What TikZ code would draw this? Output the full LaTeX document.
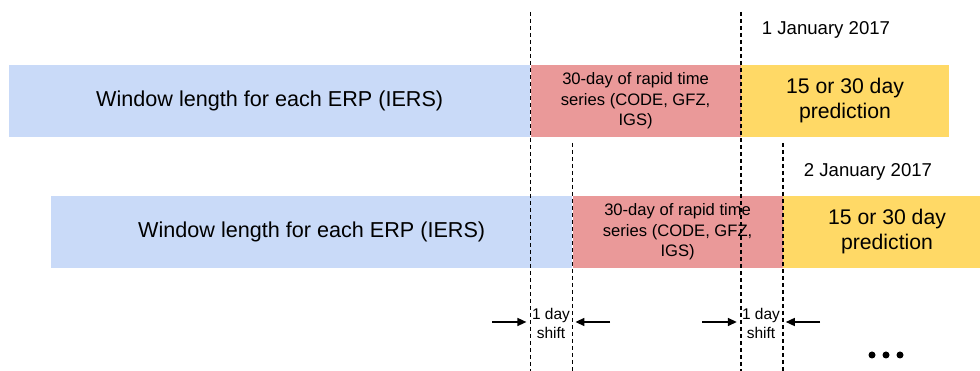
\documentclass[tikz,border=0pt]{standalone}
\usepackage{fontspec}
\setmainfont{Liberation Sans}
\usetikzlibrary{positioning, arrows.meta}
\definecolor{erpblue}{HTML}{C9DAF8}
\definecolor{rapidred}{HTML}{EA9999}
\definecolor{predyellow}{HTML}{FFD966}

\begin{document}
\begin{tikzpicture}[x=1pt, y=1pt,
  bar/.style={inner sep=0pt, minimum height=72pt, align=center},
  winbar/.style={bar, fill=erpblue, minimum width=521pt, font=\fontsize{21.6}{26}\selectfont},
  rapidbar/.style={bar, fill=rapidred, minimum width=210pt, font=\fontsize{16.6}{20.5}\selectfont},
  predbar/.style={bar, fill=predyellow, minimum width=208pt, font=\fontsize{21.2}{25}\selectfont},
  datelabel/.style={font=\fontsize{18.6}{22}\selectfont},
  shiftlabel/.style={align=center, inner sep=0pt, font=\fontsize{15.5}{19}\selectfont},
  guide/.style={dash pattern=on 4pt off 3pt, line width=1.6pt},
  shiftarrow/.style={-{Triangle[length=9pt,width=8pt]}, line width=1.5pt}]
\clip (0,0) rectangle (980,371);

% Day 1
\begin{scope}
\node[winbar, anchor=west] (win1) at (9,270) {Window length for each ERP (IERS)};
\node[rapidbar, right=0pt of win1] (rap1) {30-day of rapid time\\series (CODE, GFZ,\\IGS)};
\node[predbar, right=0pt of rap1] (pred1) {15 or 30 day\\prediction};
\end{scope}

% Day 2 - shifted by one day
\begin{scope}[xshift=42pt, yshift=-131pt]
\node[winbar, anchor=west] (win2) at (9,270) {Window length for each ERP (IERS)};
\node[rapidbar, right=0pt of win2] (rap2) {30-day of rapid time\\series (CODE, GFZ,\\IGS)};
\node[predbar, right=0pt of rap2] (pred2) {15 or 30 day\\prediction};
\end{scope}

\node[datelabel] (date1) at (826,341) {1 January 2017};
\node[datelabel] (date2) at (868,199) {2 January 2017};

% Guide lines
\draw[guide] (win1.east |- 0,359) -- (win1.east |- 0,0);
\draw[guide] (rap1.east |- 0,359) -- (rap1.east |- 0,0);
\draw[guide] (win2.east |- 0,228) -- (win2.east |- 0,0);
\draw[guide] (rap2.east |- 0,228) -- (rap2.east |- 0,0);

% One day shift
\node[shiftlabel] (shift1) at (551,48) {1 day\\shift};
\node[shiftlabel] (shift2) at (761,48) {1 day\\shift};
\draw[shiftarrow, shorten >=4pt] (492,49) -- (win1.east |- 0,49);
\draw[shiftarrow, shorten >=3pt] (610,49) -- (win2.east |- 0,49);
\draw[shiftarrow, shorten >=4pt] (702,49) -- (rap1.east |- 0,49);
\draw[shiftarrow, shorten >=3pt] (820,49) -- (rap2.east |- 0,49);

\foreach \dx in {872,886,900}
  \fill (\dx,16) circle (3.5);
\end{tikzpicture}
\end{document}
